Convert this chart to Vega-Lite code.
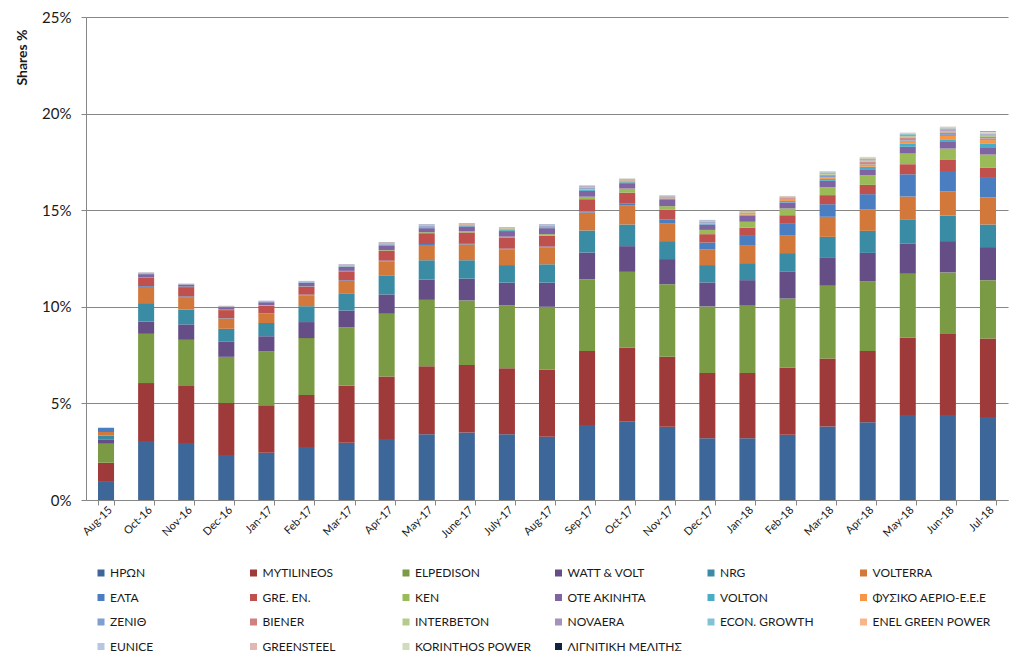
{
  "$schema": "https://vega.github.io/schema/vega-lite/v6.json",
  "width": 922,
  "height": 483,
  "autosize": {"type": "none"},
  "padding": {"left": 86, "top": 17, "right": 16, "bottom": 169},
  "background": "white",
  "config": {
    "font": "Lato, 'Noto Sans', sans-serif",
    "view": {"stroke": null},
    "axis": {"labelColor": "#1a1a1a", "titleColor": "#1a1a1a", "domainColor": "#868686", "tickColor": "#868686", "gridColor": "#868686"}
  },
  "data": {"values": [
    {"month":"Aug-15","company":"ΗΡΩΝ","share":0.98},{"month":"Aug-15","company":"MYTILINEOS","share":0.95},{"month":"Aug-15","company":"ELPEDISON","share":0.98},{"month":"Aug-15","company":"WATT & VOLT","share":0.23},{"month":"Aug-15","company":"NRG","share":0.20},{"month":"Aug-15","company":"VOLTERRA","share":0.18},{"month":"Aug-15","company":"ΕΛΤΑ","share":0.22},

    {"month":"Oct-16","company":"ΗΡΩΝ","share":3.05},{"month":"Oct-16","company":"MYTILINEOS","share":3.00},{"month":"Oct-16","company":"ELPEDISON","share":2.55},{"month":"Oct-16","company":"WATT & VOLT","share":0.64},{"month":"Oct-16","company":"NRG","share":0.95},{"month":"Oct-16","company":"VOLTERRA","share":0.84},{"month":"Oct-16","company":"ΕΛΤΑ","share":0.04},{"month":"Oct-16","company":"GRE. EN.","share":0.42},{"month":"Oct-16","company":"KEN","share":0.02},{"month":"Oct-16","company":"ΟΤΕ ΑΚΙΝΗΤΑ","share":0.18},{"month":"Oct-16","company":"VOLTON","share":0.02},{"month":"Oct-16","company":"ΖΕΝΙΘ","share":0.02},{"month":"Oct-16","company":"BIENER","share":0.02},{"month":"Oct-16","company":"INTERBETON","share":0.01},{"month":"Oct-16","company":"NOVAERA","share":0.02},

    {"month":"Nov-16","company":"ΗΡΩΝ","share":2.95},{"month":"Nov-16","company":"MYTILINEOS","share":2.95},{"month":"Nov-16","company":"ELPEDISON","share":2.39},{"month":"Nov-16","company":"WATT & VOLT","share":0.80},{"month":"Nov-16","company":"NRG","share":0.77},{"month":"Nov-16","company":"VOLTERRA","share":0.64},{"month":"Nov-16","company":"ΕΛΤΑ","share":0.04},{"month":"Nov-16","company":"GRE. EN.","share":0.48},{"month":"Nov-16","company":"KEN","share":0.02},{"month":"Nov-16","company":"ΟΤΕ ΑΚΙΝΗΤΑ","share":0.10},{"month":"Nov-16","company":"VOLTON","share":0.01},{"month":"Nov-16","company":"ΖΕΝΙΘ","share":0.02},{"month":"Nov-16","company":"BIENER","share":0.01},{"month":"Nov-16","company":"INTERBETON","share":0.01},{"month":"Nov-16","company":"NOVAERA","share":0.01},

    {"month":"Dec-16","company":"ΗΡΩΝ","share":2.33},{"month":"Dec-16","company":"MYTILINEOS","share":2.69},{"month":"Dec-16","company":"ELPEDISON","share":2.39},{"month":"Dec-16","company":"WATT & VOLT","share":0.80},{"month":"Dec-16","company":"NRG","share":0.65},{"month":"Dec-16","company":"VOLTERRA","share":0.54},{"month":"Dec-16","company":"ΕΛΤΑ","share":0.02},{"month":"Dec-16","company":"GRE. EN.","share":0.41},{"month":"Dec-16","company":"KEN","share":0.02},{"month":"Dec-16","company":"ΟΤΕ ΑΚΙΝΗΤΑ","share":0.13},{"month":"Dec-16","company":"VOLTON","share":0.01},{"month":"Dec-16","company":"ΖΕΝΙΘ","share":0.02},{"month":"Dec-16","company":"BIENER","share":0.01},{"month":"Dec-16","company":"INTERBETON","share":0.01},{"month":"Dec-16","company":"NOVAERA","share":0.02},

    {"month":"Jan-17","company":"ΗΡΩΝ","share":2.45},{"month":"Jan-17","company":"MYTILINEOS","share":2.46},{"month":"Jan-17","company":"ELPEDISON","share":2.78},{"month":"Jan-17","company":"WATT & VOLT","share":0.78},{"month":"Jan-17","company":"NRG","share":0.69},{"month":"Jan-17","company":"VOLTERRA","share":0.48},{"month":"Jan-17","company":"ΕΛΤΑ","share":0.02},{"month":"Jan-17","company":"GRE. EN.","share":0.41},{"month":"Jan-17","company":"KEN","share":0.02},{"month":"Jan-17","company":"ΟΤΕ ΑΚΙΝΗΤΑ","share":0.15},{"month":"Jan-17","company":"VOLTON","share":0.01},{"month":"Jan-17","company":"ΖΕΝΙΘ","share":0.02},{"month":"Jan-17","company":"BIENER","share":0.01},{"month":"Jan-17","company":"INTERBETON","share":0.01},{"month":"Jan-17","company":"NOVAERA","share":0.02},

    {"month":"Feb-17","company":"ΗΡΩΝ","share":2.74},{"month":"Feb-17","company":"MYTILINEOS","share":2.69},{"month":"Feb-17","company":"ELPEDISON","share":2.95},{"month":"Feb-17","company":"WATT & VOLT","share":0.83},{"month":"Feb-17","company":"NRG","share":0.82},{"month":"Feb-17","company":"VOLTERRA","share":0.56},{"month":"Feb-17","company":"ΕΛΤΑ","share":0.04},{"month":"Feb-17","company":"GRE. EN.","share":0.40},{"month":"Feb-17","company":"KEN","share":0.02},{"month":"Feb-17","company":"ΟΤΕ ΑΚΙΝΗΤΑ","share":0.19},{"month":"Feb-17","company":"VOLTON","share":0.02},{"month":"Feb-17","company":"ΖΕΝΙΘ","share":0.02},{"month":"Feb-17","company":"BIENER","share":0.02},{"month":"Feb-17","company":"INTERBETON","share":0.02},{"month":"Feb-17","company":"NOVAERA","share":0.02},

    {"month":"Mar-17","company":"ΗΡΩΝ","share":2.96},{"month":"Mar-17","company":"MYTILINEOS","share":2.95},{"month":"Mar-17","company":"ELPEDISON","share":3.02},{"month":"Mar-17","company":"WATT & VOLT","share":0.88},{"month":"Mar-17","company":"NRG","share":0.86},{"month":"Mar-17","company":"VOLTERRA","share":0.67},{"month":"Mar-17","company":"ΕΛΤΑ","share":0.03},{"month":"Mar-17","company":"GRE. EN.","share":0.47},{"month":"Mar-17","company":"KEN","share":0.02},{"month":"Mar-17","company":"ΟΤΕ ΑΚΙΝΗΤΑ","share":0.20},{"month":"Mar-17","company":"VOLTON","share":0.03},{"month":"Mar-17","company":"ΦΥΣΙΚΟ ΑΕΡΙΟ-Ε.Ε.Ε","share":0.01},{"month":"Mar-17","company":"ΖΕΝΙΘ","share":0.03},{"month":"Mar-17","company":"BIENER","share":0.02},{"month":"Mar-17","company":"INTERBETON","share":0.02},{"month":"Mar-17","company":"NOVAERA","share":0.03},

    {"month":"Apr-17","company":"ΗΡΩΝ","share":3.16},{"month":"Apr-17","company":"MYTILINEOS","share":3.23},{"month":"Apr-17","company":"ELPEDISON","share":3.25},{"month":"Apr-17","company":"WATT & VOLT","share":1.00},{"month":"Apr-17","company":"NRG","share":0.99},{"month":"Apr-17","company":"VOLTERRA","share":0.72},{"month":"Apr-17","company":"ΕΛΤΑ","share":0.04},{"month":"Apr-17","company":"GRE. EN.","share":0.51},{"month":"Apr-17","company":"KEN","share":0.03},{"month":"Apr-17","company":"ΟΤΕ ΑΚΙΝΗΤΑ","share":0.25},{"month":"Apr-17","company":"VOLTON","share":0.04},{"month":"Apr-17","company":"ΦΥΣΙΚΟ ΑΕΡΙΟ-Ε.Ε.Ε","share":0.01},{"month":"Apr-17","company":"ΖΕΝΙΘ","share":0.03},{"month":"Apr-17","company":"BIENER","share":0.03},{"month":"Apr-17","company":"INTERBETON","share":0.03},{"month":"Apr-17","company":"NOVAERA","share":0.03},

    {"month":"May-17","company":"ΗΡΩΝ","share":3.40},{"month":"May-17","company":"MYTILINEOS","share":3.52},{"month":"May-17","company":"ELPEDISON","share":3.44},{"month":"May-17","company":"WATT & VOLT","share":1.05},{"month":"May-17","company":"NRG","share":1.00},{"month":"May-17","company":"VOLTERRA","share":0.79},{"month":"May-17","company":"ΕΛΤΑ","share":0.05},{"month":"May-17","company":"GRE. EN.","share":0.56},{"month":"May-17","company":"KEN","share":0.05},{"month":"May-17","company":"ΟΤΕ ΑΚΙΝΗΤΑ","share":0.21},{"month":"May-17","company":"VOLTON","share":0.05},{"month":"May-17","company":"ΦΥΣΙΚΟ ΑΕΡΙΟ-Ε.Ε.Ε","share":0.02},{"month":"May-17","company":"ΖΕΝΙΘ","share":0.04},{"month":"May-17","company":"BIENER","share":0.03},{"month":"May-17","company":"INTERBETON","share":0.03},{"month":"May-17","company":"NOVAERA","share":0.03},{"month":"May-17","company":"ECON. GROWTH","share":0.01},

    {"month":"June-17","company":"ΗΡΩΝ","share":3.49},{"month":"June-17","company":"MYTILINEOS","share":3.50},{"month":"June-17","company":"ELPEDISON","share":3.34},{"month":"June-17","company":"WATT & VOLT","share":1.13},{"month":"June-17","company":"NRG","share":0.95},{"month":"June-17","company":"VOLTERRA","share":0.82},{"month":"June-17","company":"ΕΛΤΑ","share":0.03},{"month":"June-17","company":"GRE. EN.","share":0.59},{"month":"June-17","company":"KEN","share":0.06},{"month":"June-17","company":"ΟΤΕ ΑΚΙΝΗΤΑ","share":0.25},{"month":"June-17","company":"VOLTON","share":0.04},{"month":"June-17","company":"ΦΥΣΙΚΟ ΑΕΡΙΟ-Ε.Ε.Ε","share":0.01},{"month":"June-17","company":"ΖΕΝΙΘ","share":0.03},{"month":"June-17","company":"BIENER","share":0.03},{"month":"June-17","company":"INTERBETON","share":0.03},{"month":"June-17","company":"NOVAERA","share":0.03},

    {"month":"July-17","company":"ΗΡΩΝ","share":3.40},{"month":"July-17","company":"MYTILINEOS","share":3.42},{"month":"July-17","company":"ELPEDISON","share":3.25},{"month":"July-17","company":"WATT & VOLT","share":1.18},{"month":"July-17","company":"NRG","share":0.91},{"month":"July-17","company":"VOLTERRA","share":0.81},{"month":"July-17","company":"ΕΛΤΑ","share":0.04},{"month":"July-17","company":"GRE. EN.","share":0.55},{"month":"July-17","company":"KEN","share":0.07},{"month":"July-17","company":"ΟΤΕ ΑΚΙΝΗΤΑ","share":0.29},{"month":"July-17","company":"VOLTON","share":0.05},{"month":"July-17","company":"ΦΥΣΙΚΟ ΑΕΡΙΟ-Ε.Ε.Ε","share":0.02},{"month":"July-17","company":"ΖΕΝΙΘ","share":0.03},{"month":"July-17","company":"BIENER","share":0.03},{"month":"July-17","company":"INTERBETON","share":0.03},{"month":"July-17","company":"NOVAERA","share":0.03},{"month":"July-17","company":"ECON. GROWTH","share":0.01},

    {"month":"Aug-17","company":"ΗΡΩΝ","share":3.28},{"month":"Aug-17","company":"MYTILINEOS","share":3.47},{"month":"Aug-17","company":"ELPEDISON","share":3.25},{"month":"Aug-17","company":"WATT & VOLT","share":1.25},{"month":"Aug-17","company":"NRG","share":0.95},{"month":"Aug-17","company":"VOLTERRA","share":0.88},{"month":"Aug-17","company":"ΕΛΤΑ","share":0.04},{"month":"Aug-17","company":"GRE. EN.","share":0.56},{"month":"Aug-17","company":"KEN","share":0.08},{"month":"Aug-17","company":"ΟΤΕ ΑΚΙΝΗΤΑ","share":0.31},{"month":"Aug-17","company":"VOLTON","share":0.05},{"month":"Aug-17","company":"ΦΥΣΙΚΟ ΑΕΡΙΟ-Ε.Ε.Ε","share":0.02},{"month":"Aug-17","company":"ΖΕΝΙΘ","share":0.04},{"month":"Aug-17","company":"BIENER","share":0.03},{"month":"Aug-17","company":"INTERBETON","share":0.03},{"month":"Aug-17","company":"NOVAERA","share":0.03},{"month":"Aug-17","company":"ECON. GROWTH","share":0.01},

    {"month":"Sep-17","company":"ΗΡΩΝ","share":3.88},{"month":"Sep-17","company":"MYTILINEOS","share":3.83},{"month":"Sep-17","company":"ELPEDISON","share":3.72},{"month":"Sep-17","company":"WATT & VOLT","share":1.38},{"month":"Sep-17","company":"NRG","share":1.14},{"month":"Sep-17","company":"VOLTERRA","share":0.93},{"month":"Sep-17","company":"ΕΛΤΑ","share":0.05},{"month":"Sep-17","company":"GRE. EN.","share":0.64},{"month":"Sep-17","company":"KEN","share":0.13},{"month":"Sep-17","company":"ΟΤΕ ΑΚΙΝΗΤΑ","share":0.30},{"month":"Sep-17","company":"VOLTON","share":0.06},{"month":"Sep-17","company":"ΦΥΣΙΚΟ ΑΕΡΙΟ-Ε.Ε.Ε","share":0.03},{"month":"Sep-17","company":"ΖΕΝΙΘ","share":0.05},{"month":"Sep-17","company":"BIENER","share":0.04},{"month":"Sep-17","company":"INTERBETON","share":0.04},{"month":"Sep-17","company":"NOVAERA","share":0.04},{"month":"Sep-17","company":"ECON. GROWTH","share":0.02},{"month":"Sep-17","company":"ENEL GREEN POWER","share":0.01},

    {"month":"Oct-17","company":"ΗΡΩΝ","share":4.07},{"month":"Oct-17","company":"MYTILINEOS","share":3.81},{"month":"Oct-17","company":"ELPEDISON","share":3.93},{"month":"Oct-17","company":"WATT & VOLT","share":1.33},{"month":"Oct-17","company":"NRG","share":1.12},{"month":"Oct-17","company":"VOLTERRA","share":1.00},{"month":"Oct-17","company":"ΕΛΤΑ","share":0.10},{"month":"Oct-17","company":"GRE. EN.","share":0.55},{"month":"Oct-17","company":"KEN","share":0.21},{"month":"Oct-17","company":"ΟΤΕ ΑΚΙΝΗΤΑ","share":0.28},{"month":"Oct-17","company":"VOLTON","share":0.05},{"month":"Oct-17","company":"ΦΥΣΙΚΟ ΑΕΡΙΟ-Ε.Ε.Ε","share":0.03},{"month":"Oct-17","company":"ΖΕΝΙΘ","share":0.04},{"month":"Oct-17","company":"BIENER","share":0.03},{"month":"Oct-17","company":"INTERBETON","share":0.03},{"month":"Oct-17","company":"NOVAERA","share":0.03},{"month":"Oct-17","company":"ECON. GROWTH","share":0.02},{"month":"Oct-17","company":"ENEL GREEN POWER","share":0.01},

    {"month":"Nov-17","company":"ΗΡΩΝ","share":3.79},{"month":"Nov-17","company":"MYTILINEOS","share":3.62},{"month":"Nov-17","company":"ELPEDISON","share":3.76},{"month":"Nov-17","company":"WATT & VOLT","share":1.30},{"month":"Nov-17","company":"NRG","share":0.93},{"month":"Nov-17","company":"VOLTERRA","share":0.93},{"month":"Nov-17","company":"ΕΛΤΑ","share":0.20},{"month":"Nov-17","company":"GRE. EN.","share":0.49},{"month":"Nov-17","company":"KEN","share":0.19},{"month":"Nov-17","company":"ΟΤΕ ΑΚΙΝΗΤΑ","share":0.32},{"month":"Nov-17","company":"VOLTON","share":0.05},{"month":"Nov-17","company":"ΦΥΣΙΚΟ ΑΕΡΙΟ-Ε.Ε.Ε","share":0.03},{"month":"Nov-17","company":"ΖΕΝΙΘ","share":0.04},{"month":"Nov-17","company":"BIENER","share":0.03},{"month":"Nov-17","company":"INTERBETON","share":0.03},{"month":"Nov-17","company":"NOVAERA","share":0.03},{"month":"Nov-17","company":"ECON. GROWTH","share":0.02},{"month":"Nov-17","company":"ENEL GREEN POWER","share":0.02},

    {"month":"Dec-17","company":"ΗΡΩΝ","share":3.19},{"month":"Dec-17","company":"MYTILINEOS","share":3.38},{"month":"Dec-17","company":"ELPEDISON","share":3.45},{"month":"Dec-17","company":"WATT & VOLT","share":1.24},{"month":"Dec-17","company":"NRG","share":0.90},{"month":"Dec-17","company":"VOLTERRA","share":0.82},{"month":"Dec-17","company":"ΕΛΤΑ","share":0.35},{"month":"Dec-17","company":"GRE. EN.","share":0.43},{"month":"Dec-17","company":"KEN","share":0.22},{"month":"Dec-17","company":"ΟΤΕ ΑΚΙΝΗΤΑ","share":0.28},{"month":"Dec-17","company":"VOLTON","share":0.05},{"month":"Dec-17","company":"ΦΥΣΙΚΟ ΑΕΡΙΟ-Ε.Ε.Ε","share":0.03},{"month":"Dec-17","company":"ΖΕΝΙΘ","share":0.04},{"month":"Dec-17","company":"BIENER","share":0.03},{"month":"Dec-17","company":"INTERBETON","share":0.03},{"month":"Dec-17","company":"NOVAERA","share":0.03},{"month":"Dec-17","company":"ECON. GROWTH","share":0.02},{"month":"Dec-17","company":"ENEL GREEN POWER","share":0.01},

    {"month":"Jan-18","company":"ΗΡΩΝ","share":3.19},{"month":"Jan-18","company":"MYTILINEOS","share":3.38},{"month":"Jan-18","company":"ELPEDISON","share":3.52},{"month":"Jan-18","company":"WATT & VOLT","share":1.29},{"month":"Jan-18","company":"NRG","share":0.88},{"month":"Jan-18","company":"VOLTERRA","share":0.90},{"month":"Jan-18","company":"ΕΛΤΑ","share":0.51},{"month":"Jan-18","company":"GRE. EN.","share":0.42},{"month":"Jan-18","company":"KEN","share":0.31},{"month":"Jan-18","company":"ΟΤΕ ΑΚΙΝΗΤΑ","share":0.31},{"month":"Jan-18","company":"VOLTON","share":0.06},{"month":"Jan-18","company":"ΦΥΣΙΚΟ ΑΕΡΙΟ-Ε.Ε.Ε","share":0.04},{"month":"Jan-18","company":"ΖΕΝΙΘ","share":0.04},{"month":"Jan-18","company":"BIENER","share":0.03},{"month":"Jan-18","company":"INTERBETON","share":0.03},{"month":"Jan-18","company":"NOVAERA","share":0.03},{"month":"Jan-18","company":"ECON. GROWTH","share":0.02},{"month":"Jan-18","company":"ENEL GREEN POWER","share":0.01},

    {"month":"Feb-18","company":"ΗΡΩΝ","share":3.38},{"month":"Feb-18","company":"MYTILINEOS","share":3.46},{"month":"Feb-18","company":"ELPEDISON","share":3.59},{"month":"Feb-18","company":"WATT & VOLT","share":1.38},{"month":"Feb-18","company":"NRG","share":0.97},{"month":"Feb-18","company":"VOLTERRA","share":0.93},{"month":"Feb-18","company":"ΕΛΤΑ","share":0.62},{"month":"Feb-18","company":"GRE. EN.","share":0.41},{"month":"Feb-18","company":"KEN","share":0.35},{"month":"Feb-18","company":"ΟΤΕ ΑΚΙΝΗΤΑ","share":0.31},{"month":"Feb-18","company":"VOLTON","share":0.08},{"month":"Feb-18","company":"ΦΥΣΙΚΟ ΑΕΡΙΟ-Ε.Ε.Ε","share":0.06},{"month":"Feb-18","company":"ΖΕΝΙΘ","share":0.05},{"month":"Feb-18","company":"BIENER","share":0.04},{"month":"Feb-18","company":"INTERBETON","share":0.03},{"month":"Feb-18","company":"NOVAERA","share":0.03},{"month":"Feb-18","company":"ECON. GROWTH","share":0.02},{"month":"Feb-18","company":"ENEL GREEN POWER","share":0.02},{"month":"Feb-18","company":"EUNICE","share":0.01},

    {"month":"Mar-18","company":"ΗΡΩΝ","share":3.81},{"month":"Mar-18","company":"MYTILINEOS","share":3.52},{"month":"Mar-18","company":"ELPEDISON","share":3.76},{"month":"Mar-18","company":"WATT & VOLT","share":1.44},{"month":"Mar-18","company":"NRG","share":1.09},{"month":"Mar-18","company":"VOLTERRA","share":1.04},{"month":"Mar-18","company":"ΕΛΤΑ","share":0.65},{"month":"Mar-18","company":"GRE. EN.","share":0.47},{"month":"Mar-18","company":"KEN","share":0.41},{"month":"Mar-18","company":"ΟΤΕ ΑΚΙΝΗΤΑ","share":0.33},{"month":"Mar-18","company":"VOLTON","share":0.10},{"month":"Mar-18","company":"ΦΥΣΙΚΟ ΑΕΡΙΟ-Ε.Ε.Ε","share":0.09},{"month":"Mar-18","company":"ΖΕΝΙΘ","share":0.07},{"month":"Mar-18","company":"BIENER","share":0.06},{"month":"Mar-18","company":"INTERBETON","share":0.05},{"month":"Mar-18","company":"NOVAERA","share":0.05},{"month":"Mar-18","company":"ECON. GROWTH","share":0.03},{"month":"Mar-18","company":"ENEL GREEN POWER","share":0.03},{"month":"Mar-18","company":"EUNICE","share":0.02},{"month":"Mar-18","company":"GREENSTEEL","share":0.01},

    {"month":"Apr-18","company":"ΗΡΩΝ","share":4.02},{"month":"Apr-18","company":"MYTILINEOS","share":3.69},{"month":"Apr-18","company":"ELPEDISON","share":3.60},{"month":"Apr-18","company":"WATT & VOLT","share":1.48},{"month":"Apr-18","company":"NRG","share":1.14},{"month":"Apr-18","company":"VOLTERRA","share":1.12},{"month":"Apr-18","company":"ΕΛΤΑ","share":0.78},{"month":"Apr-18","company":"GRE. EN.","share":0.48},{"month":"Apr-18","company":"KEN","share":0.50},{"month":"Apr-18","company":"ΟΤΕ ΑΚΙΝΗΤΑ","share":0.31},{"month":"Apr-18","company":"VOLTON","share":0.13},{"month":"Apr-18","company":"ΦΥΣΙΚΟ ΑΕΡΙΟ-Ε.Ε.Ε","share":0.12},{"month":"Apr-18","company":"ΖΕΝΙΘ","share":0.08},{"month":"Apr-18","company":"BIENER","share":0.07},{"month":"Apr-18","company":"INTERBETON","share":0.06},{"month":"Apr-18","company":"NOVAERA","share":0.06},{"month":"Apr-18","company":"ECON. GROWTH","share":0.04},{"month":"Apr-18","company":"ENEL GREEN POWER","share":0.04},{"month":"Apr-18","company":"EUNICE","share":0.02},{"month":"Apr-18","company":"GREENSTEEL","share":0.01},{"month":"Apr-18","company":"KORINTHOS POWER","share":0.01},

    {"month":"May-18","company":"ΗΡΩΝ","share":4.40},{"month":"May-18","company":"MYTILINEOS","share":4.00},{"month":"May-18","company":"ELPEDISON","share":3.31},{"month":"May-18","company":"WATT & VOLT","share":1.55},{"month":"May-18","company":"NRG","share":1.27},{"month":"May-18","company":"VOLTERRA","share":1.18},{"month":"May-18","company":"ΕΛΤΑ","share":1.15},{"month":"May-18","company":"GRE. EN.","share":0.52},{"month":"May-18","company":"KEN","share":0.55},{"month":"May-18","company":"ΟΤΕ ΑΚΙΝΗΤΑ","share":0.35},{"month":"May-18","company":"VOLTON","share":0.18},{"month":"May-18","company":"ΦΥΣΙΚΟ ΑΕΡΙΟ-Ε.Ε.Ε","share":0.14},{"month":"May-18","company":"ΖΕΝΙΘ","share":0.09},{"month":"May-18","company":"BIENER","share":0.08},{"month":"May-18","company":"INTERBETON","share":0.06},{"month":"May-18","company":"NOVAERA","share":0.06},{"month":"May-18","company":"ECON. GROWTH","share":0.05},{"month":"May-18","company":"ENEL GREEN POWER","share":0.04},{"month":"May-18","company":"EUNICE","share":0.02},{"month":"May-18","company":"GREENSTEEL","share":0.01},{"month":"May-18","company":"KORINTHOS POWER","share":0.01},

    {"month":"Jun-18","company":"ΗΡΩΝ","share":4.40},{"month":"Jun-18","company":"MYTILINEOS","share":4.19},{"month":"Jun-18","company":"ELPEDISON","share":3.19},{"month":"Jun-18","company":"WATT & VOLT","share":1.62},{"month":"Jun-18","company":"NRG","share":1.32},{"month":"Jun-18","company":"VOLTERRA","share":1.26},{"month":"Jun-18","company":"ΕΛΤΑ","share":1.05},{"month":"Jun-18","company":"GRE. EN.","share":0.57},{"month":"Jun-18","company":"KEN","share":0.59},{"month":"Jun-18","company":"ΟΤΕ ΑΚΙΝΗΤΑ","share":0.34},{"month":"Jun-18","company":"VOLTON","share":0.14},{"month":"Jun-18","company":"ΦΥΣΙΚΟ ΑΕΡΙΟ-Ε.Ε.Ε","share":0.17},{"month":"Jun-18","company":"ΖΕΝΙΘ","share":0.10},{"month":"Jun-18","company":"BIENER","share":0.09},{"month":"Jun-18","company":"INTERBETON","share":0.08},{"month":"Jun-18","company":"NOVAERA","share":0.08},{"month":"Jun-18","company":"ECON. GROWTH","share":0.05},{"month":"Jun-18","company":"ENEL GREEN POWER","share":0.05},{"month":"Jun-18","company":"EUNICE","share":0.02},{"month":"Jun-18","company":"GREENSTEEL","share":0.01},{"month":"Jun-18","company":"KORINTHOS POWER","share":0.01},

    {"month":"Jul-18","company":"ΗΡΩΝ","share":4.29},{"month":"Jul-18","company":"MYTILINEOS","share":4.07},{"month":"Jul-18","company":"ELPEDISON","share":3.02},{"month":"Jul-18","company":"WATT & VOLT","share":1.71},{"month":"Jul-18","company":"NRG","share":1.17},{"month":"Jul-18","company":"VOLTERRA","share":1.40},{"month":"Jul-18","company":"ΕΛΤΑ","share":1.01},{"month":"Jul-18","company":"GRE. EN.","share":0.52},{"month":"Jul-18","company":"KEN","share":0.69},{"month":"Jul-18","company":"ΟΤΕ ΑΚΙΝΗΤΑ","share":0.34},{"month":"Jul-18","company":"VOLTON","share":0.24},{"month":"Jul-18","company":"ΦΥΣΙΚΟ ΑΕΡΙΟ-Ε.Ε.Ε","share":0.17},{"month":"Jul-18","company":"ΖΕΝΙΘ","share":0.08},{"month":"Jul-18","company":"BIENER","share":0.08},{"month":"Jul-18","company":"INTERBETON","share":0.07},{"month":"Jul-18","company":"NOVAERA","share":0.07},{"month":"Jul-18","company":"ECON. GROWTH","share":0.04},{"month":"Jul-18","company":"ENEL GREEN POWER","share":0.04},{"month":"Jul-18","company":"EUNICE","share":0.02},{"month":"Jul-18","company":"GREENSTEEL","share":0.01},{"month":"Jul-18","company":"KORINTHOS POWER","share":0.01},{"month":"Jul-18","company":"ΛΙΓΝΙΤΙΚΗ ΜΕΛΙΤΗΣ","share":0.02}
  ]},
  "transform": [
    {"calculate": "indexof(['ΗΡΩΝ','MYTILINEOS','ELPEDISON','WATT & VOLT','NRG','VOLTERRA','ΕΛΤΑ','GRE. EN.','KEN','ΟΤΕ ΑΚΙΝΗΤΑ','VOLTON','ΦΥΣΙΚΟ ΑΕΡΙΟ-Ε.Ε.Ε','ΖΕΝΙΘ','BIENER','INTERBETON','NOVAERA','ECON. GROWTH','ENEL GREEN POWER','EUNICE','GREENSTEEL','KORINTHOS POWER','ΛΙΓΝΙΤΙΚΗ ΜΕΛΙΤΗΣ'], datum.company)", "as": "seriesIndex"}
  ],
  "mark": {"type": "bar"},
  "encoding": {
    "x": {
      "field": "month", "type": "nominal", "sort": null,
      "scale": {"paddingInner": 0.6, "paddingOuter": 0.3},
      "axis": {"title": null, "labelAngle": -45, "labelAlign": "right", "labelBaseline": "middle", "labelFontSize": 11, "labelPadding": 3, "labelOffset": 4, "tickBand": "extent", "tickSize": 5, "grid": false}
    },
    "y": {
      "field": "share", "type": "quantitative", "stack": "zero",
      "scale": {"domain": [0, 25], "nice": false},
      "axis": {"title": "Shares %", "titleFontSize": 14, "titleFontWeight": "bold", "titleX": -64, "titleY": 40, "titleAngle": -90, "titleAlign": "center", "titleBaseline": "middle",
        "values": [0, 5, 10, 15, 20, 25], "labelExpr": "datum.value + '%'", "labelFontSize": 15, "labelPadding": 10, "tickSize": 5, "grid": true, "gridWidth": 1}
    },
    "order": {"field": "seriesIndex", "type": "quantitative", "sort": "ascending"},
    "color": {
      "field": "company", "type": "nominal",
      "scale": {
        "domain": ["ΗΡΩΝ","MYTILINEOS","ELPEDISON","WATT & VOLT","NRG","VOLTERRA","ΕΛΤΑ","GRE. EN.","KEN","ΟΤΕ ΑΚΙΝΗΤΑ","VOLTON","ΦΥΣΙΚΟ ΑΕΡΙΟ-Ε.Ε.Ε","ΖΕΝΙΘ","BIENER","INTERBETON","NOVAERA","ECON. GROWTH","ENEL GREEN POWER","EUNICE","GREENSTEEL","KORINTHOS POWER","ΛΙΓΝΙΤΙΚΗ ΜΕΛΙΤΗΣ"],
        "range": ["#3D6699","#9E3B3A","#7A9A43","#654E86","#3A8CA4","#D2783B","#4A7EC0","#C0504D","#9BBB59","#8064A2","#4BACC6","#F79646","#7F9FD0","#D0807E","#B3CC8A","#A491BC","#80C3D6","#F9B587","#B8C7E1","#E1B6B5","#CFDDBA","#0F243E"]
      },
      "legend": {"title": null, "orient": "none", "direction": "horizontal", "legendX": 9, "legendY": 550, "columns": 6, "gridAlign": "all", "symbolType": "square", "symbolSize": 49, "symbolStrokeWidth": 0, "labelFontSize": 12, "labelColor": "#1a1a1a", "labelOffset": 3, "rowPadding": 12.5, "columnPadding": 18.5, "padding": 0, "labelLimit": 200}
    }
  }
}
